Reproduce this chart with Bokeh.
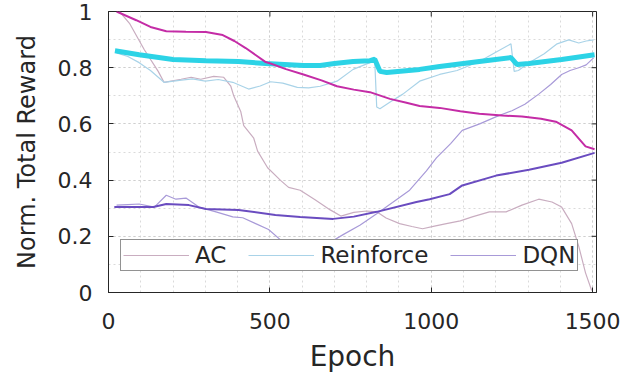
import math
from bokeh.plotting import figure
from bokeh.models import Range1d, FixedTicker, Legend, LegendItem
from bokeh.embed import file_html
from bokeh.resources import INLINE

# ---- data ----
ac_raw_x = [34, 65, 111, 154, 172, 225, 256, 286, 326, 357, 379, 388, 410, 419, 450, 462, 493, 533, 558, 594,
            640, 687, 720, 760, 800, 831, 860, 902, 940, 973, 1010, 1047, 1090, 1127, 1180, 1232, 1281, 1333,
            1374, 1404, 1435, 1457, 1478, 1497]
ac_raw_y = [1.0, 0.958, 0.864, 0.787, 0.748, 0.759, 0.766, 0.759, 0.769, 0.766, 0.734, 0.70, 0.643, 0.594,
            0.549, 0.503, 0.444, 0.399, 0.374, 0.364, 0.33, 0.294, 0.272, 0.285, 0.29, 0.287, 0.265, 0.245,
            0.235, 0.227, 0.236, 0.245, 0.255, 0.269, 0.287, 0.287, 0.311, 0.332, 0.322, 0.304, 0.245, 0.164,
            0.07, 0.007]

rf_raw_x = [25, 60, 95, 130, 172, 220, 260, 300, 340, 385, 434, 470, 502, 540, 585, 620, 656, 708, 758, 810,
            825, 831, 841, 875, 912, 964, 1026, 1080, 1149, 1200, 1247, 1257, 1270, 1303, 1350, 1390, 1426,
            1457, 1480, 1503]
rf_raw_y = [0.853, 0.84, 0.818, 0.79, 0.748, 0.755, 0.76, 0.752, 0.758, 0.748, 0.724, 0.735, 0.75, 0.745,
            0.73, 0.728, 0.734, 0.752, 0.794, 0.818, 0.822, 0.66, 0.654, 0.68, 0.706, 0.752, 0.776, 0.79,
            0.822, 0.855, 0.885, 0.787, 0.79, 0.818, 0.85, 0.885, 0.899, 0.888, 0.895, 0.899]

dqn_raw_x = [25, 60, 95, 142, 179, 209, 240, 280, 333, 385, 416, 456, 496, 540, 600, 660, 727, 780, 831, 880,
             933, 985, 1016, 1060, 1096, 1150, 1200, 1250, 1290, 1333, 1370, 1404, 1430, 1457, 1480, 1503]
dqn_raw_y = [0.311, 0.313, 0.315, 0.304, 0.346, 0.332, 0.336, 0.304, 0.287, 0.269, 0.266, 0.245, 0.224, 0.18,
             0.14, 0.16, 0.206, 0.24, 0.28, 0.32, 0.364, 0.433, 0.479, 0.53, 0.577, 0.6, 0.625, 0.647, 0.67,
             0.706, 0.74, 0.776, 0.79, 0.80, 0.81, 0.835]

ac_x = [25, 86, 130, 179, 240, 302, 354, 390, 425, 487, 502, 550, 604, 660, 708, 760, 810, 872, 920, 964,
        1026, 1090, 1149, 1220, 1281, 1340, 1386, 1435, 1478, 1506]
ac_y = [1.0, 0.969, 0.945, 0.93, 0.928, 0.927, 0.916, 0.895, 0.87, 0.82, 0.815, 0.795, 0.776, 0.755, 0.734,
        0.722, 0.713, 0.689, 0.676, 0.664, 0.657, 0.645, 0.636, 0.63, 0.626, 0.618, 0.608, 0.577, 0.52, 0.51]

rf_x = [20, 95, 200, 302, 403, 487, 604, 656, 700, 758, 810, 825, 841, 862, 964, 1026, 1149, 1247, 1266,
        1303, 1404, 1506]
rf_y = [0.86, 0.846, 0.829, 0.825, 0.822, 0.815, 0.808, 0.808, 0.815, 0.822, 0.825, 0.83, 0.787, 0.783,
        0.794, 0.804, 0.822, 0.836, 0.811, 0.815, 0.829, 0.846]

dqn_x = [18, 139, 179, 249, 302, 403, 517, 594, 696, 760, 831, 954, 995, 1057, 1096, 1201, 1303, 1404, 1506]
dqn_y = [0.304, 0.304, 0.315, 0.311, 0.297, 0.294, 0.276, 0.269, 0.262, 0.27, 0.287, 0.322, 0.332, 0.35,
         0.381, 0.416, 0.437, 0.462, 0.497]

labels = ["AC", "Reinforce", "DQN"]
x_ticks = [0, 500, 1000, 1500]
y_ticks = [0, 0.2, 0.4, 0.6, 0.8, 1]
x_minor = list(range(0, 1600, 100))
y_minor = [i / 10 for i in range(11)]
x_lim = (0, 1512)
y_lim = (0, 1)

FONT = "DejaVu Sans"
TXT = "#262626"

p = figure(width=631, height=375, output_backend="svg", toolbar_location=None,
           x_range=Range1d(*x_lim), y_range=Range1d(*y_lim),
           min_border_left=108, min_border_right=35, min_border_top=11, min_border_bottom=78)
p.background_fill_color = "white"
p.border_fill_color = "white"
p.outline_line_color = TXT
p.outline_line_width = 1

p.xgrid.ticker = FixedTicker(ticks=x_ticks, minor_ticks=x_minor)
p.ygrid.ticker = FixedTicker(ticks=y_ticks, minor_ticks=y_minor)
for g in (p.xgrid[0], p.ygrid[0]):
    g.grid_line_color = "#cfcfcf"
    g.grid_line_dash = "2 3"
    g.grid_line_width = 1
    g.minor_grid_line_color = "#dadada"
    g.minor_grid_line_dash = "2 3"
    g.minor_grid_line_width = 1

# raw (thin) lines
r_ac = p.line(ac_raw_x, ac_raw_y, line_color="#c9adc0", line_width=1.2)
r_rf = p.line(rf_raw_x, rf_raw_y, line_color="#a9d3e8", line_width=1.2)
r_dq = p.line(dqn_raw_x, dqn_raw_y, line_color="#a89ad8", line_width=1.2)
# smoothed (thick) lines
p.line(rf_x, rf_y, line_color="#2cd3e6", line_width=5)
p.line(ac_x, ac_y, line_color="#c42ca6", line_width=2)
p.line(dqn_x, dqn_y, line_color="#6a4cc0", line_width=2)

for ax in (p.xaxis[0], p.yaxis[0]):
    ax.major_label_text_font = FONT
    ax.major_label_text_font_size = "22px"
    ax.major_label_text_color = TXT
    ax.axis_label_text_font = FONT
    ax.axis_label_text_font_style = "normal"
    ax.axis_label_text_color = TXT
    ax.axis_line_color = TXT
    ax.major_tick_in = 5
    ax.major_tick_out = 0
    ax.major_tick_line_color = TXT
    ax.minor_tick_line_color = None

p.xaxis[0].ticker = FixedTicker(ticks=x_ticks, minor_ticks=x_minor)
p.yaxis[0].ticker = FixedTicker(ticks=y_ticks, minor_ticks=y_minor)
p.xaxis[0].axis_label = "Epoch"
p.yaxis[0].axis_label = "Norm. Total Reward"
p.xaxis[0].axis_label_text_font_size = "28px"
p.yaxis[0].axis_label_text_font_size = "24px"
p.xaxis[0].major_label_standoff = 16
p.yaxis[0].major_label_standoff = 12
p.xaxis[0].axis_label_standoff = 8
p.yaxis[0].axis_label_standoff = 14
p.yaxis[0].major_label_overrides = {0: "0", 1: "1"}

# mirrored tick marks on the top and right edges of the box
p.ray(x=x_ticks, y=[y_lim[1]] * len(x_ticks), length=5, length_units="screen",
      angle=-math.pi / 2, line_color=TXT, line_width=1)
p.ray(x=[x_lim[1]] * len(y_ticks), y=y_ticks, length=5, length_units="screen",
      angle=math.pi, line_color=TXT, line_width=1)

legend = Legend(items=[LegendItem(label=labels[0], renderers=[r_ac]),
                       LegendItem(label=labels[1], renderers=[r_rf]),
                       LegendItem(label=labels[2], renderers=[r_dq])],
                orientation="horizontal", location=(12, 21),
                label_text_font=FONT, label_text_font_size="23px", label_text_color=TXT,
                glyph_width=66, glyph_height=20, label_standoff=6, spacing=22, padding=2, margin=0,
                border_line_color=TXT, border_line_width=1, background_fill_alpha=1,
                label_height=20)
p.add_layout(legend, "center")

open("out.html", "w").write(file_html(p, INLINE))
